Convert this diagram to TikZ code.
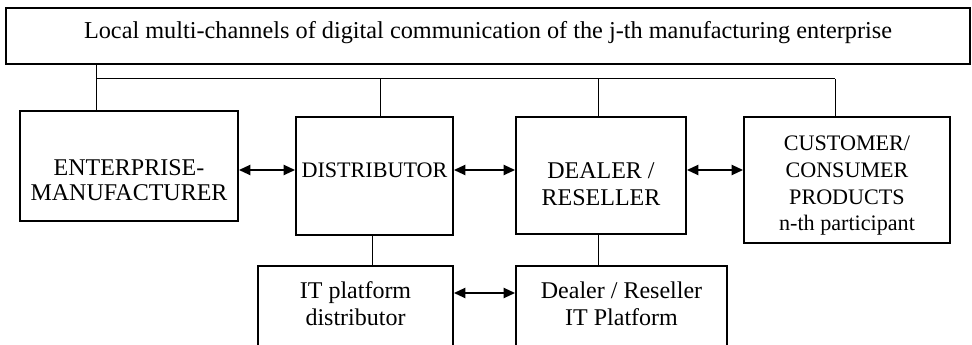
\documentclass[tikz,border=0pt]{standalone}
\usepackage{fontspec}
\setmainfont{Liberation Serif}
\usetikzlibrary{arrows.meta}
\tikzset{
  box/.style={draw, line width=1.4pt, rectangle, inner sep=0pt},
  size/.style 2 args={minimum width=#1*0.75pt, minimum height=#2*0.75pt},
  txt/.style={inner sep=0pt, align=center, font=\fontsize{18}{20}\selectfont},
  wire/.style={line width=0.75pt},
  link/.style={line width=1.4pt, {Triangle[length=8.5pt,width=7.5pt]}-{Triangle[length=8.5pt,width=7.5pt]}}
}
\begin{document}
\begin{tikzpicture}[x=0.75pt, y=-0.75pt]
% canali locali e partecipanti della catena
\clip (0,0) rectangle (972,345);
\coordinate (B1) at (96,79);
\coordinate (B2) at (380,79);
\coordinate (B3) at (598,79);
\coordinate (B4) at (835,79);
\coordinate (C1) at (372,0);
\coordinate (L1) at (0,170);
\coordinate (L2) at (0,293);

\node[box, size={964}{56}] (chan) at (488,36) {};
\node[txt, font=\fontsize{18.2}{22}\selectfont] (chantxt) at (488,33) {Local multi-channels of digital communication of the j-th manufacturing enterprise};

\node[box, size={218}{110}] (manuf) at (129,166) {};
\node[txt, font=\fontsize{18}{18.75}\selectfont] (manuftxt) at (129,180) {ENTERPRISE-\\MANUFACTURER};
\node[box, size={157}{118}] (distr) at (374.5,176) {};
\node[txt, font=\fontsize{16.6}{20}\selectfont] (distrtxt) at (374.5,170) {DISTRIBUTOR};
\node[box, size={170}{117}] (dealer) at (601,175.5) {};
\node[txt] (dealertxt) at (601,184) {DEALER /\\RESELLER};
\node[box, size={206}{126}] (cust) at (847,180) {};
\node[txt, font=\fontsize{16.6}{20}\selectfont] (custtxt) at (847,186) {CUSTOMER/\\CONSUMER\\PRODUCTS\\n-th participant};

\node[box, size={195}{110}] (itdistr) at (355.5,321) {};
\node[txt] (itdistrtxt) at (355.5,303.5) {IT platform\\distributor};
\node[box, size={211}{110}] (itdealer) at (621.5,321) {};
\node[txt] (itdealertxt) at (621.5,303.5) {Dealer / Reseller\\IT Platform};

\draw[wire] (B1 |- chan.south) -- (B1 |- manuf.north);
\draw[wire] (B1) -- (B4);
\draw[wire] (B2) -- (B2 |- distr.north);
\draw[wire] (B3) -- (B3 |- dealer.north);
\draw[wire] (B4) -- (B4 |- cust.north);

\draw[wire] (C1 |- distr.south) -- (C1 |- itdistr.north);
\draw[wire] (B3 |- dealer.south) -- (B3 |- itdealer.north);

\draw[link] (manuf.east |- L1) -- (distr.west |- L1);
\draw[link] (distr.east |- L1) -- (dealer.west |- L1);
\draw[link] (dealer.east |- L1) -- (cust.west |- L1);
\draw[link] (itdistr.east |- L2) -- (itdealer.west |- L2);
\end{tikzpicture}
\end{document}
